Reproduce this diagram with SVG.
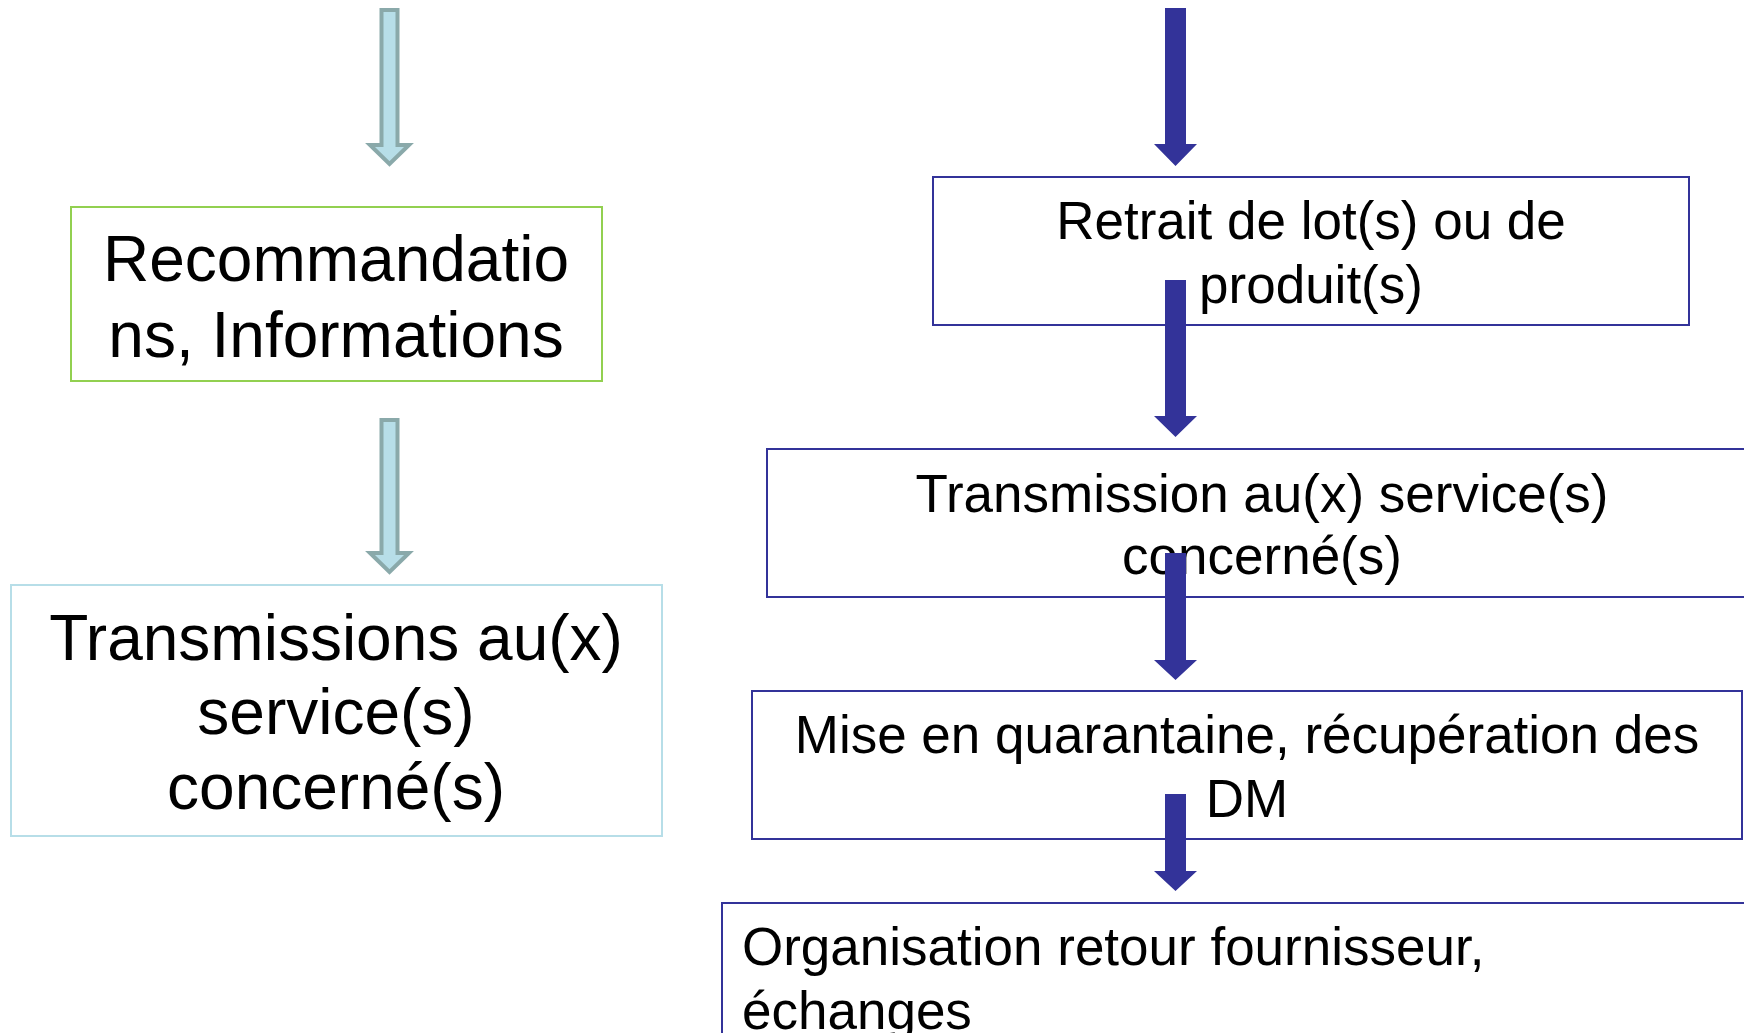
<svg xmlns="http://www.w3.org/2000/svg" width="1744" height="1033" viewBox="0 0 1744 1033">
<style>
text{font-family:"Liberation Sans",Arial,sans-serif;fill:#000}
.big{font-size:64px;text-anchor:middle}
.med{font-size:53px;text-anchor:middle}
.box{fill:#fff;stroke:#333399;stroke-width:2}
.la{fill:#b7dee8;stroke:#8aa9aa;stroke-width:4}
.ra{fill:#333399}
</style>
<rect width="1744" height="1033" fill="#fff"/>
<g id="n-recommandations">
<rect x="71" y="207" width="531" height="174" fill="#fff" stroke="#92d050" stroke-width="2"/>
<text class="big" x="336" y="281">Recommandatio</text>
<text class="big" x="336" y="357">ns, Informations</text>
</g>
<g id="n-transmissions-left">
<rect x="11" y="585" width="651" height="251" fill="#fff" stroke="#b7dee8" stroke-width="2"/>
<text class="big" x="336" y="660">Transmissions au(x)</text>
<text class="big" x="336" y="734">service(s)</text>
<text class="big" x="336" y="809">concerné(s)</text>
</g>
<g id="n-retrait">
<rect class="box" x="933" y="177" width="756" height="148"/>
<text class="med" x="1311" y="239">Retrait de lot(s) ou de</text>
<text class="med" x="1311" y="303">produit(s)</text>
</g>
<g id="n-transmission-right">
<rect class="box" x="767" y="449" width="1000" height="148"/>
<text class="med" x="1262" y="512">Transmission au(x) service(s)</text>
<text class="med" x="1262" y="574">concerné(s)</text>
</g>
<g id="n-quarantaine">
<rect class="box" x="752" y="691" width="990" height="148"/>
<text class="med" x="1247" y="753">Mise en quarantaine, récupération des</text>
<text class="med" x="1247" y="817">DM</text>
</g>
<g id="n-organisation">
<rect class="box" x="722" y="903" width="1040" height="160"/>
<text font-size="53" x="742" y="965">Organisation retour fournisseur,</text>
<text font-size="53" x="742" y="1029">échanges</text>
</g>
<g id="connectors">
<polygon class="la" points="381.5,10 397.5,10 397.5,145 409,145 389.5,164 370,145 381.5,145"/>
<polygon class="la" points="381.5,420 397.5,420 397.5,553 409,553 389.5,572 370,553 381.5,553"/>
<polygon class="ra" points="1165,8 1186,8 1186,144 1197,144 1175.5,166 1154,144 1165,144"/>
<polygon class="ra" points="1165,280 1186,280 1186,416 1197,416 1175.5,437 1154,416 1165,416"/>
<polygon class="ra" points="1165,553 1186,553 1186,660 1197,660 1175.5,680 1154,660 1165,660"/>
<polygon class="ra" points="1165,794 1186,794 1186,871 1197,871 1175.5,891 1154,871 1165,871"/>
</g>
</svg>
